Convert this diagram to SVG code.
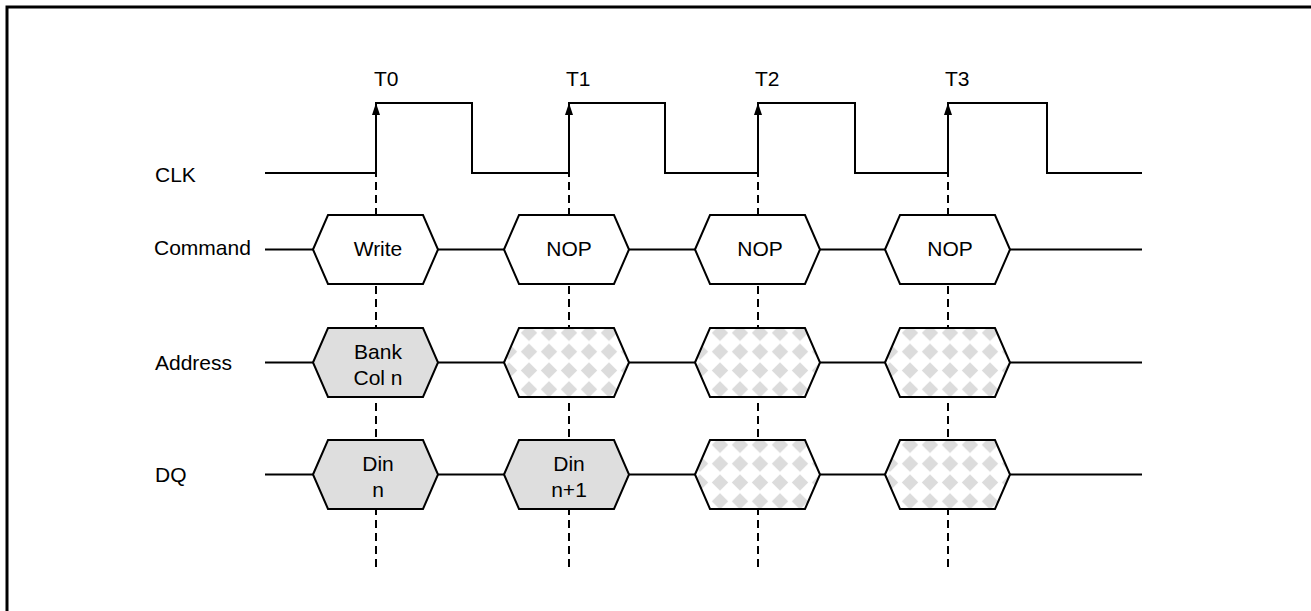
<svg xmlns="http://www.w3.org/2000/svg" width="1311" height="611" viewBox="0 0 1311 611">
<style>
text{font-family:"Liberation Sans",Arial,sans-serif;font-size:21px;fill:#000}
.mid{text-anchor:middle}
.wire{fill:none;stroke:#000;stroke-width:2}
.dash{fill:none;stroke:#000;stroke-width:2;stroke-dasharray:8 5}
.hex{stroke:#000;stroke-width:2;stroke-linejoin:miter}
.white{fill:#fff}
.gray{fill:#dedede}
.pat{fill:url(#chk)}
</style>
<defs>
<pattern id="chk" patternUnits="userSpaceOnUse" x="-5" y="-4.5" width="20" height="18.8">
<rect width="20" height="18.8" fill="#fff"/>
<path d="M10,1.2 L18.2,9.4 L10,17.6 L1.8,9.4 Z" fill="#dcdcdc"/>
</pattern>
<path id="hexshape" d="M0,34.5 L15,0 H110 L125,34.5 L110,69 H15 Z"/>
<marker id="arr" viewBox="0 0 12 10" refX="12" refY="5" markerWidth="12" markerHeight="10" markerUnits="userSpaceOnUse" orient="auto">
<path d="M0,1 L12,5 L0,9 Z" fill="#000"/>
</marker>
</defs>
<rect x="7" y="7" width="1320" height="620" fill="#fff" stroke="#000" stroke-width="3"/>
<g id="labels">
<text x="155" y="182">CLK</text>
<text x="154" y="255">Command</text>
<text x="155" y="370">Address</text>
<text x="155" y="482">DQ</text>
<text x="374" y="86">T0</text>
<text x="566" y="86">T1</text>
<text x="755" y="86">T2</text>
<text x="945" y="86">T3</text>
</g>
<g id="connectors">
<path class="dash" d="M376,567 V103" marker-end="url(#arr)"/>
<path class="dash" d="M569,567 V103" marker-end="url(#arr)"/>
<path class="dash" d="M758,567 V103" marker-end="url(#arr)"/>
<path class="dash" d="M948,567 V103" marker-end="url(#arr)"/>
<path class="wire" d="M265,173 H376 V103 H472 V173 H569 V103 H665 V173 H758 V103 H855 V173 H948 V103 H1047 V173 H1142"/>
<path class="wire" d="M265,249.5 H313 M437,249.5 H504 M629,249.5 H695 M820,249.5 H885 M1010,249.5 H1142"/>
<path class="wire" d="M265,362.5 H313 M437,362.5 H504 M629,362.5 H695 M820,362.5 H885 M1010,362.5 H1142"/>
<path class="wire" d="M265,474.5 H313 M437,474.5 H504 M629,474.5 H695 M820,474.5 H885 M1010,474.5 H1142"/>
</g>
<g id="cmd-write" transform="translate(313,215)"><use href="#hexshape" class="hex white"/><text class="mid" x="65" y="41">Write</text></g>
<g id="cmd-nop1" transform="translate(504,215)"><use href="#hexshape" class="hex white"/><text class="mid" x="65" y="41">NOP</text></g>
<g id="cmd-nop2" transform="translate(695,215)"><use href="#hexshape" class="hex white"/><text class="mid" x="65" y="41">NOP</text></g>
<g id="cmd-nop3" transform="translate(885,215)"><use href="#hexshape" class="hex white"/><text class="mid" x="65" y="41">NOP</text></g>
<g id="addr-bank" transform="translate(313,328)"><use href="#hexshape" class="hex gray"/><text class="mid" x="65" y="31">Bank</text><text class="mid" x="65" y="57">Col n</text></g>
<g id="addr-x1" transform="translate(504,328)"><use href="#hexshape" class="hex pat"/></g>
<g id="addr-x2" transform="translate(695,328)"><use href="#hexshape" class="hex pat"/></g>
<g id="addr-x3" transform="translate(885,328)"><use href="#hexshape" class="hex pat"/></g>
<g id="dq-n" transform="translate(313,440)"><use href="#hexshape" class="hex gray"/><text class="mid" x="65" y="31">Din</text><text class="mid" x="65" y="57">n</text></g>
<g id="dq-n1" transform="translate(504,440)"><use href="#hexshape" class="hex gray"/><text class="mid" x="65" y="31">Din</text><text class="mid" x="65" y="57">n+1</text></g>
<g id="dq-x2" transform="translate(695,440)"><use href="#hexshape" class="hex pat"/></g>
<g id="dq-x3" transform="translate(885,440)"><use href="#hexshape" class="hex pat"/></g>
</svg>
